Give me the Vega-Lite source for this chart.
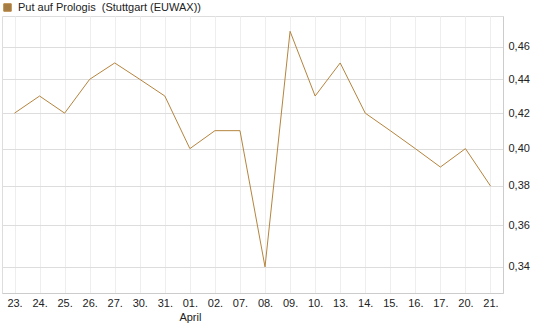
{
  "$schema": "https://vega.github.io/schema/vega-lite/v6.json",
  "autosize": {"type": "none"},
  "width": 501,
  "height": 277,
  "padding": {"left": 2, "top": 16, "right": 42, "bottom": 34},
  "background": "white",
  "config": {
    "font": "Liberation Sans",
    "view": {"stroke": "#dddddd", "strokeWidth": 1}
  },
  "data": {
    "values": [
      {"date": "2026-03-23", "kurs": 0.42, "serie": "Put auf Prologis \u00a0(Stuttgart (EUWAX))"},
      {"date": "2026-03-24", "kurs": 0.43, "serie": "Put auf Prologis \u00a0(Stuttgart (EUWAX))"},
      {"date": "2026-03-25", "kurs": 0.42, "serie": "Put auf Prologis \u00a0(Stuttgart (EUWAX))"},
      {"date": "2026-03-26", "kurs": 0.44, "serie": "Put auf Prologis \u00a0(Stuttgart (EUWAX))"},
      {"date": "2026-03-27", "kurs": 0.45, "serie": "Put auf Prologis \u00a0(Stuttgart (EUWAX))"},
      {"date": "2026-03-30", "kurs": 0.44, "serie": "Put auf Prologis \u00a0(Stuttgart (EUWAX))"},
      {"date": "2026-03-31", "kurs": 0.43, "serie": "Put auf Prologis \u00a0(Stuttgart (EUWAX))"},
      {"date": "2026-04-01", "kurs": 0.40, "serie": "Put auf Prologis \u00a0(Stuttgart (EUWAX))"},
      {"date": "2026-04-02", "kurs": 0.41, "serie": "Put auf Prologis \u00a0(Stuttgart (EUWAX))"},
      {"date": "2026-04-07", "kurs": 0.41, "serie": "Put auf Prologis \u00a0(Stuttgart (EUWAX))"},
      {"date": "2026-04-08", "kurs": 0.34, "serie": "Put auf Prologis \u00a0(Stuttgart (EUWAX))"},
      {"date": "2026-04-09", "kurs": 0.47, "serie": "Put auf Prologis \u00a0(Stuttgart (EUWAX))"},
      {"date": "2026-04-10", "kurs": 0.43, "serie": "Put auf Prologis \u00a0(Stuttgart (EUWAX))"},
      {"date": "2026-04-13", "kurs": 0.45, "serie": "Put auf Prologis \u00a0(Stuttgart (EUWAX))"},
      {"date": "2026-04-14", "kurs": 0.42, "serie": "Put auf Prologis \u00a0(Stuttgart (EUWAX))"},
      {"date": "2026-04-15", "kurs": 0.41, "serie": "Put auf Prologis \u00a0(Stuttgart (EUWAX))"},
      {"date": "2026-04-16", "kurs": 0.40, "serie": "Put auf Prologis \u00a0(Stuttgart (EUWAX))"},
      {"date": "2026-04-17", "kurs": 0.39, "serie": "Put auf Prologis \u00a0(Stuttgart (EUWAX))"},
      {"date": "2026-04-20", "kurs": 0.40, "serie": "Put auf Prologis \u00a0(Stuttgart (EUWAX))"},
      {"date": "2026-04-21", "kurs": 0.38, "serie": "Put auf Prologis \u00a0(Stuttgart (EUWAX))"}
    ]
  },
  "mark": {"type": "line", "strokeWidth": 1, "interpolate": "linear"},
  "encoding": {
    "x": {
      "field": "date",
      "type": "ordinal",
      "scale": {"type": "point", "padding": 0.5},
      "axis": {
        "title": null,
        "labelAngle": 0,
        "labelExpr": "slice(datum.value, 5, 7) == '04' && slice(datum.value, 8) == '01' ? ['01.', 'April'] : slice(datum.value, 8) + '.'",
        "labelFontSize": 11,
        "labelColor": "#222222",
        "labelPadding": 4,
        "labelLineHeight": 14,
        "labelBaseline": "top",
        "domain": true,
        "domainColor": "#cccccc",
        "ticks": false,
        "grid": true,
        "gridColor": "#eeeeee",
        "gridWidth": 1
      }
    },
    "y": {
      "field": "kurs",
      "type": "quantitative",
      "scale": {"type": "log", "domain": [0.328, 0.48], "nice": false, "zero": false},
      "axis": {
        "orient": "right",
        "title": null,
        "values": [0.34, 0.36, 0.38, 0.40, 0.42, 0.44, 0.46],
        "labelExpr": "replace(format(datum.value, '.2f'), '.', ',')",
        "labelFontSize": 11,
        "labelColor": "#222222",
        "labelPadding": 5,
        "domain": true,
        "domainColor": "#cccccc",
        "ticks": false,
        "grid": true,
        "gridColor": "#dddddd",
        "gridWidth": 1
      }
    },
    "color": {
      "field": "serie",
      "type": "nominal",
      "scale": {"range": ["#b5843e"]},
      "legend": {
        "title": null,
        "orient": "none",
        "legendX": 0,
        "legendY": -14,
        "symbolType": "square",
        "symbolSize": 56,
        "symbolFillColor": "#a67c45",
        "symbolStrokeColor": "#6b4e2a",
        "symbolStrokeWidth": 1,
        "labelFontSize": 11,
        "labelColor": "#222222",
        "labelOffset": 5,
        "labelLimit": 400,
        "padding": 0
      }
    }
  }
}
